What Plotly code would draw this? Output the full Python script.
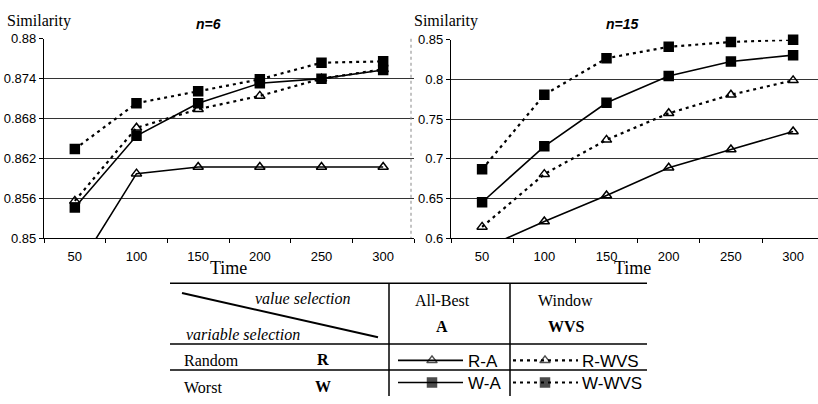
import plotly.graph_objects as go

W, H = 818, 404

time = [50, 100, 150, 200, 250, 300]

# n=6 panel
n6_RA = [0.8448, 0.8597, 0.8607, 0.8607, 0.8607, 0.8607]
n6_RWVS = [0.8556, 0.8666, 0.8694, 0.8714, 0.8740, 0.8754]
n6_WA = [0.8546, 0.8654, 0.8703, 0.8733, 0.8740, 0.8753]
n6_WWVS = [0.8634, 0.8703, 0.8721, 0.8739, 0.8764, 0.8766]

# n=15 panel
n15_RA = [0.586, 0.621, 0.6536, 0.6887, 0.7117, 0.7343]
n15_RWVS = [0.6141, 0.6806, 0.7238, 0.7573, 0.7806, 0.7988]
n15_WA = [0.6452, 0.7157, 0.7706, 0.8044, 0.8226, 0.8306]
n15_WWVS = [0.6867, 0.7806, 0.8266, 0.8411, 0.8472, 0.8500]

y6_ticks = [0.85, 0.856, 0.862, 0.868, 0.874, 0.88]
y15_ticks = [0.6, 0.65, 0.7, 0.75, 0.8, 0.85]

SERIF = "Liberation Serif"
SANS = "Liberation Sans"
DOT = "3px,4px"


def px(x):
    return x / W


def py(y):
    return 1 - y / H


fig = go.Figure()

styles = {
    "R-A": dict(dash="solid", symbol="triangle-up-open"),
    "R-WVS": dict(dash=DOT, symbol="triangle-up-open"),
    "W-A": dict(dash="solid", symbol="square"),
    "W-WVS": dict(dash=DOT, symbol="square"),
}

panels = [
    ("x", "y", {"R-A": n6_RA, "R-WVS": n6_RWVS, "W-A": n6_WA, "W-WVS": n6_WWVS}),
    ("x2", "y2", {"R-A": n15_RA, "R-WVS": n15_RWVS, "W-A": n15_WA, "W-WVS": n15_WWVS}),
]

for xa, ya, series in panels:
    for name in ["R-A", "R-WVS", "W-A", "W-WVS"]:
        st = styles[name]
        fig.add_trace(go.Scatter(
            x=time, y=series[name], mode="lines+markers", name=name,
            xaxis=xa, yaxis=ya, showlegend=False,
            cliponaxis=(name == "R-A"),
            line=dict(color="black", width=1.6 if st["dash"] == "solid" else 2.2, dash=st["dash"]),
            marker=dict(symbol=st["symbol"], size=9, color="black",
                        line=dict(color="black", width=1.5)),
        ))

# legend samples inside the table (on a full-page pixel axis)
samples = [
    ("R-A", 398, 463, 432, 367),
    ("W-A", 398, 463, 432, 390),
    ("R-WVS", 513, 578, 545, 367),
    ("W-WVS", 513, 578, 545, 390),
]
for name, x0, x1, xm, yy in samples:
    st = styles[name]
    fig.add_trace(go.Scatter(
        x=[x0, xm, x1], y=[yy, yy, yy], mode="lines+markers", xaxis="x3", yaxis="y3",
        showlegend=False, hoverinfo="skip",
        line=dict(color="black", width=1.6 if st["dash"] == "solid" else 2.2, dash=st["dash"]),
        marker=dict(symbol=st["symbol"], size=[0, 9, 0], color="black",
                    line=dict(color="black", width=1.5)),
    ))

grid = dict(showgrid=True, gridcolor="#333333", gridwidth=1)
tickfont = dict(family=SANS, size=13, color="black")

xcommon = dict(
    tickmode="array", tickvals=time, ticks="", showline=True, linecolor="black",
    linewidth=1.2, showgrid=False, zeroline=False, tickfont=tickfont, ticklabelstandoff=6,
    minor=dict(tickmode="array", tickvals=[25, 75, 125, 175, 225, 275, 325],
               ticks="outside", ticklen=4, tickcolor="black", showgrid=False),
)
ycommon = dict(
    tickmode="array", showline=True, linecolor="black", linewidth=1.2,
    ticks="outside", ticklen=4, tickcolor="black", zeroline=False, tickfont=tickfont,
    **grid,
)

fig.update_layout(
    width=W, height=H, margin=dict(l=0, r=0, t=0, b=0),
    paper_bgcolor="white", plot_bgcolor="rgba(0,0,0,0)",
    xaxis=dict(domain=[px(44), px(414)], range=[25, 325], anchor="y", **xcommon),
    yaxis=dict(domain=[py(240), py(33)], range=[0.85, 0.88], tickvals=y6_ticks,
               anchor="x", **ycommon),
    xaxis2=dict(domain=[px(451), 1.0], range=[25, 320], anchor="y2", **xcommon),
    yaxis2=dict(domain=[py(240), py(34)], range=[0.6, 0.85], tickvals=y15_ticks,
                anchor="x2", **ycommon),
    xaxis3=dict(domain=[0, 1], range=[0, W], visible=False, anchor="y3"),
    yaxis3=dict(domain=[0, 1], range=[H, 0], visible=False, anchor="x3"),
)

ann = []


def text(x, y, s, size=16, family=SERIF, xanchor="center", **kw):
    ann.append(dict(x=px(x), y=py(y), xref="paper", yref="paper", text=s, showarrow=False,
                    xanchor=xanchor, yanchor="middle",
                    font=dict(family=family, size=size, color="black"), **kw))


text(5, 15, "Similarity", size=16, xanchor="left")
text(412, 15, "Similarity", size=16, xanchor="left")
text(208, 18, "<b><i>n=6</i></b>", size=14, family=SANS)
text(622, 18, "<b><i>n=15</i></b>", size=14, family=SANS)
text(228, 271, "Time", size=18)
text(632, 271, "Time", size=18)

# table texts
text(303, 303, "<i>value selection</i>", size=16)
text(243, 340, "<i>variable selection</i>", size=16)
text(182, 367, "Random", size=16, xanchor="left")
text(182, 395, "Worst", size=16, xanchor="left")
text(323, 366, "<b>R</b>", size=16)
text(323, 394, "<b>W</b>", size=16)
text(442, 305, "All-Best", size=16)
text(442, 332, "<b>A</b>", size=16)
text(565, 305, "Window", size=16)
text(566, 332, "<b>WVS</b>", size=16)
text(466, 368, "R-A", size=17, family=SANS, xanchor="left")
text(466, 391, "W-A", size=17, family=SANS, xanchor="left")
text(580, 368, "R-WVS", size=17, family=SANS, xanchor="left")
text(580, 391, "W-WVS", size=17, family=SANS, xanchor="left")

shapes = []


def line(x0, y0, x1, y1, width=1.5, dash="solid", color="black"):
    shapes.append(dict(type="line", xref="paper", yref="paper", x0=px(x0), y0=py(y0),
                       x1=px(x1), y1=py(y1), line=dict(color=color, width=width, dash=dash)))


line(170, 287, 647, 287)
line(170, 350, 647, 350)
line(170, 377, 647, 377)
line(389, 287, 389, 404)
line(510, 287, 510, 404)
line(182, 297, 378, 343, width=2)
line(411, 33, 411, 240, width=1, dash="dot", color="#888888")

fig.update_layout(annotations=ann, shapes=shapes)

fig.write_html("out.html")
